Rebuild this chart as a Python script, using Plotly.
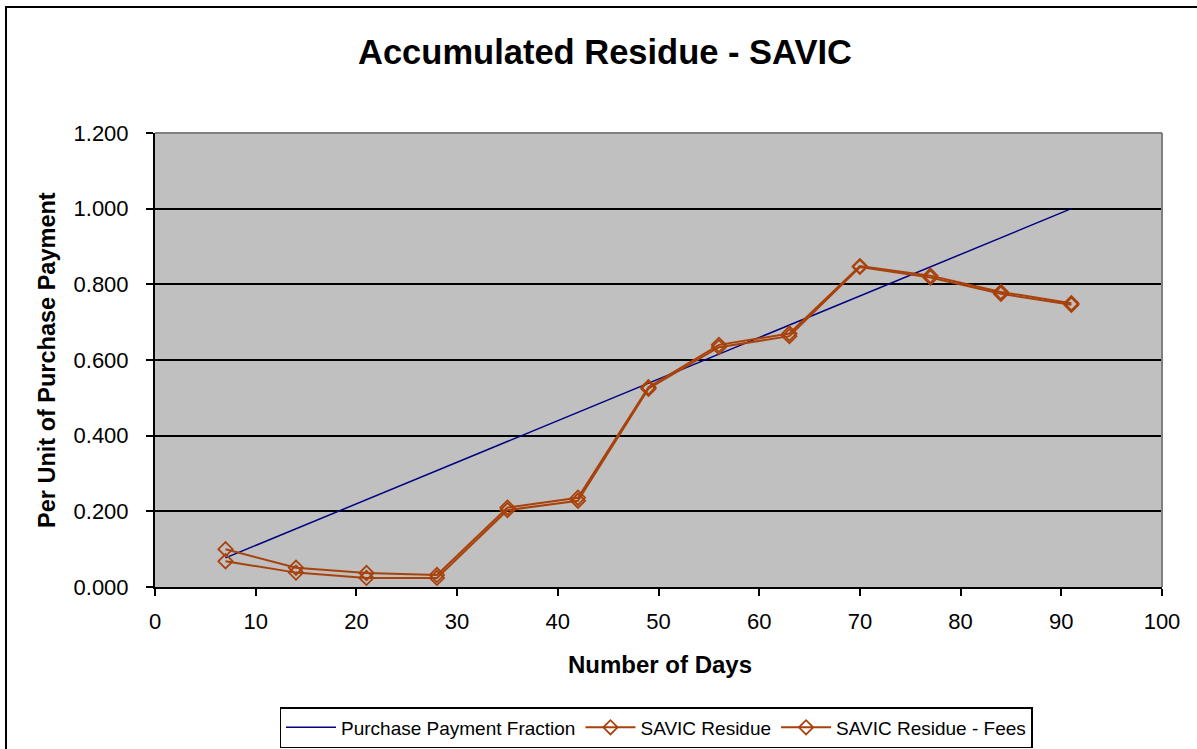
import plotly.graph_objects as go

days = [7, 14, 21, 28, 35, 42, 49, 56, 63, 70, 77, 84, 91]
purchase_fraction = [0.077, 0.154, 0.231, 0.308, 0.385, 0.462, 0.538, 0.615, 0.692, 0.769, 0.846, 0.923, 1.000]
savic_residue = [0.100, 0.051, 0.037, 0.032, 0.210, 0.236, 0.528, 0.640, 0.670, 0.848, 0.823, 0.780, 0.750]
savic_residue_fees = [0.068, 0.038, 0.024, 0.024, 0.203, 0.228, 0.524, 0.634, 0.663, 0.846, 0.818, 0.775, 0.746]

x_ticks = [0, 10, 20, 30, 40, 50, 60, 70, 80, 90, 100]
y_ticks = [0.0, 0.2, 0.4, 0.6, 0.8, 1.0, 1.2]

W, H = 1197, 749
L, R, T, B = 155, 1162, 133, 587
pw, ph = R - L, B - T

def px(x):
    return (x - L) / pw

def py(y):
    return (B - y) / ph

FONT = "Liberation Sans, Arial, sans-serif"
BROWN = "#A8420C"

fig = go.Figure()
fig.add_trace(go.Scatter(x=days, y=purchase_fraction, mode="lines",
                         name="Purchase Payment Fraction",
                         line=dict(color="#000080", width=1.5)))
fig.add_trace(go.Scatter(x=days, y=savic_residue, mode="lines+markers",
                         name="SAVIC Residue",
                         line=dict(color=BROWN, width=2),
                         marker=dict(symbol="diamond-open", size=11, color=BROWN,
                                     line=dict(width=1.8, color=BROWN))))
fig.add_trace(go.Scatter(x=days, y=savic_residue_fees, mode="lines+markers",
                         name="SAVIC Residue - Fees",
                         line=dict(color=BROWN, width=2),
                         marker=dict(symbol="diamond-open", size=11, color=BROWN,
                                     line=dict(width=1.8, color=BROWN))))

fig.update_layout(
    width=W, height=H,
    margin=dict(l=L, r=W - R, t=T, b=H - B, autoexpand=False),
    paper_bgcolor="white",
    plot_bgcolor="#C0C0C0",
    font=dict(family=FONT, size=20, color="black"),
    title=dict(text="<b>Accumulated Residue - SAVIC</b>", x=605 / W, xanchor="center",
               y=1 - 52 / H, yanchor="middle", font=dict(size=34.5, family=FONT)),
    showlegend=True,
    legend=dict(orientation="h", x=px(656), xanchor="center", y=py(707), yanchor="top",
                bordercolor="black", borderwidth=1.5, bgcolor="white",
                font=dict(size=19, family=FONT), itemwidth=50,
                traceorder="normal"),
    xaxis=dict(range=[0, 100], tickvals=x_ticks, ticktext=[str(v) for v in x_ticks],
               showgrid=False, zeroline=False, showline=True, linecolor="black", linewidth=2,
               ticks="outside", ticklen=7, tickwidth=2, tickcolor="black",
               ticklabelstandoff=7, tickfont=dict(size=22)),
    yaxis=dict(range=[0, 1.2], tickvals=y_ticks, ticktext=[f"{v:.3f}" for v in y_ticks],
               showgrid=True, gridcolor="black", gridwidth=1.5, zeroline=False,
               showline=True, linecolor="black", linewidth=2,
               ticks="outside", ticklen=7, tickwidth=2, tickcolor="black",
               ticklabelstandoff=13, tickfont=dict(size=22)),
    annotations=[
        dict(text="<b>Number of Days</b>", xref="paper", yref="paper",
             x=px(660), y=py(664), xanchor="center", yanchor="middle",
             showarrow=False, font=dict(size=24, family=FONT)),
        dict(text="<b>Per Unit of Purchase Payment</b>", xref="paper", yref="paper",
             x=px(47), y=py(360), xanchor="center", yanchor="middle", textangle=-90,
             showarrow=False, font=dict(size=23.5, family=FONT)),
    ],
    shapes=[
        dict(type="line", xref="paper", yref="paper", x0=0, x1=1, y0=1, y1=1,
             line=dict(color="#808080", width=2), layer="above"),
        dict(type="line", xref="paper", yref="paper", x0=1, x1=1, y0=0, y1=1,
             line=dict(color="#808080", width=2), layer="above"),
        dict(type="rect", xref="paper", yref="paper",
             x0=px(6), x1=px(1215), y0=py(780), y1=py(7),
             line=dict(color="black", width=2), layer="below"),
    ],
)

fig.write_html("out.html", config={"displayModeBar": False},
               post_script="document.body.style.margin='0';document.body.style.overflow='hidden';")
